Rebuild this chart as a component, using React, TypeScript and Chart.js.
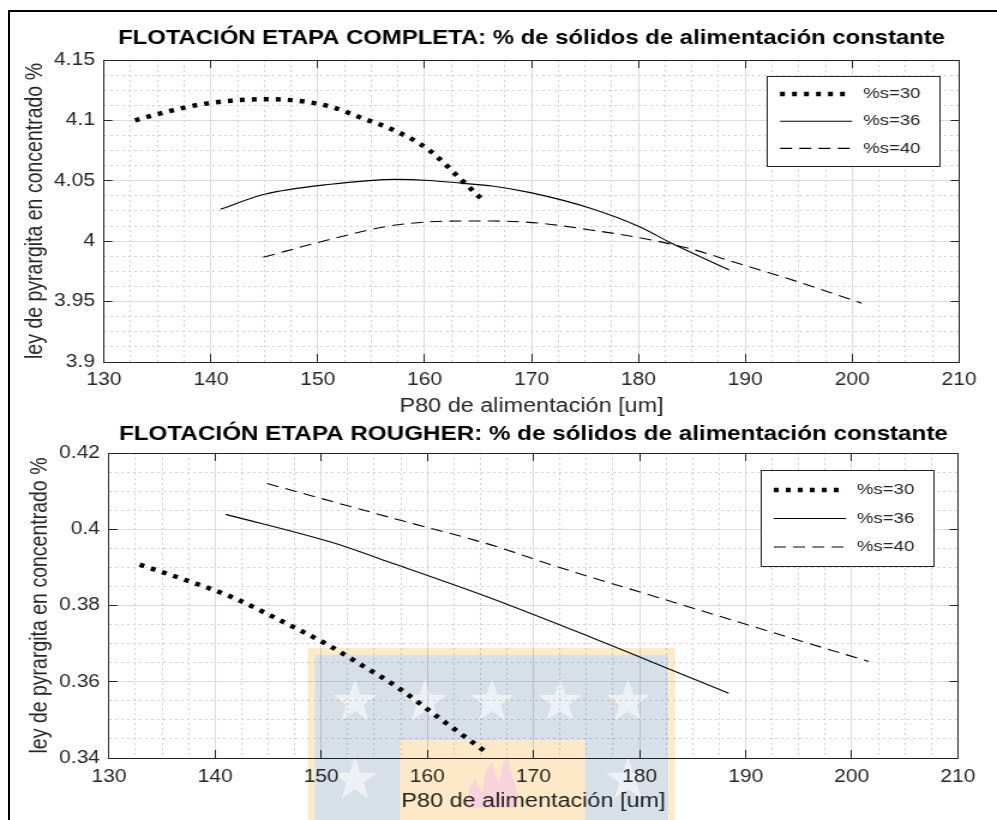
import React, { useEffect, useRef } from 'react';
import { Chart, registerables } from 'chart.js';

Chart.register(...registerables);

// ---------------- data ----------------
const xTickValues = [130, 140, 150, 160, 170, 180, 190, 200, 210];
const yTickValuesTop = [3.9, 3.95, 4, 4.05, 4.1, 4.15];
const yTickValuesBottom = [0.34, 0.36, 0.38, 0.4, 0.42];
const seriesLabels = ['%s=30', '%s=36', '%s=40'];

const topTitle = 'FLOTACIÓN ETAPA COMPLETA: % de sólidos de alimentación constante';
const bottomTitle = 'FLOTACIÓN ETAPA ROUGHER: % de sólidos de alimentación constante';
const xAxisTitle = 'P80 de alimentación [um]';
const yAxisTitle = 'ley de pyrargita en concentrado %';

// Top chart (etapa completa)
const top30X = [132.9, 135.8, 138.9, 141.9, 145.0, 148.1, 151.2, 154.2, 157.3, 160.4, 163.5, 165.6];
const top30Y = [4.1, 4.107, 4.113, 4.1163, 4.1175, 4.1163, 4.1114, 4.1017, 4.0912, 4.0755, 4.0503, 4.0327];
const top36X = [140.9, 145.0, 151.2, 157.3, 160.4, 163.5, 166.3, 169.9, 175.5, 180.1, 183.1, 188.5];
const top36Y = [4.0264, 4.0388, 4.0471, 4.0512, 4.0503, 4.0479, 4.0457, 4.0402, 4.0273, 4.012, 3.9983, 3.9762];
const top40X = [144.9, 151.2, 157.3, 163.5, 166.3, 170.9, 175.5, 180.1, 184.7, 189.3, 193.9, 200.9];
const top40Y = [3.9867, 4.0016, 4.0134, 4.0167, 4.0167, 4.0148, 4.0093, 4.0029, 3.9941, 3.9817, 3.9693, 3.9486];

// Bottom chart (etapa rougher)
const bot30X = [132.9, 137.2, 141.5, 146.2, 150.8, 153.9, 157.0, 161.6, 165.4];
const bot30Y = [0.3907, 0.3867, 0.3823, 0.376, 0.3694, 0.3642, 0.3589, 0.3495, 0.3418];
const bot36X = [141.0, 150.8, 157.0, 166.0, 175.3, 181.5, 188.4];
const bot36Y = [0.4039, 0.3967, 0.3908, 0.3819, 0.3718, 0.3648, 0.357];
const bot40X = [144.9, 157.0, 166.0, 172.2, 181.5, 190.8, 201.6];
const bot40Y = [0.412, 0.4027, 0.3959, 0.3902, 0.3823, 0.3744, 0.3653];

// ---------------- styling ----------------
const CW = 831;              // canvas drawing width (figure is stretched horizontally)
const S = 997 / CW;          // horizontal stretch
const FONT = "'Liberation Sans', Arial, Helvetica, sans-serif";
const TXT = '#262626';
const MAJ = '#dcdcdc';
const MIN = '#d2d2d2';

const lineStyles = [
  { borderWidth: 4.5, borderDash: [4, 6] },
  { borderWidth: 1.1, borderDash: [] as number[] },
  { borderWidth: 1.1, borderDash: [10, 6] },
];

function withMinors(majors: number[], sub: number) {
  const out: any[] = [];
  for (let i = 0; i < majors.length; i++) {
    out.push({ value: majors[i], mj: true });
    if (i < majors.length - 1) {
      for (let k = 1; k < sub; k++) {
        out.push({ value: majors[i] + ((majors[i + 1] - majors[i]) * k) / sub, mj: false });
      }
    }
  }
  return out;
}

function pts(xs: number[], ys: number[]) {
  return xs.map((x, i) => ({ x, y: ys[i] }));
}

const boxLegend = {
  id: 'boxLegend',
  afterDatasetsDraw(chart: any, _args: any, o: any) {
    const { ctx, chartArea } = chart;
    const x0 = chartArea.right - o.right - o.width;
    const y0 = chartArea.top + o.top;
    ctx.save();
    ctx.fillStyle = '#ffffff';
    ctx.fillRect(x0, y0, o.width, o.height);
    ctx.strokeStyle = TXT;
    ctx.lineWidth = 1;
    ctx.setLineDash([]);
    ctx.strokeRect(Math.round(x0) + 0.5, Math.round(y0) + 0.5, Math.round(o.width), Math.round(o.height));
    chart.data.datasets.forEach((ds: any, i: number) => {
      const y = y0 + o.row0 + i * o.rowGap;
      ctx.beginPath();
      ctx.setLineDash(ds.borderDash || []);
      ctx.lineCap = 'butt';
      ctx.lineWidth = ds.borderWidth;
      ctx.strokeStyle = ds.borderColor;
      ctx.moveTo(x0 + o.l0, y);
      ctx.lineTo(x0 + o.l1, y);
      ctx.stroke();
      ctx.setLineDash([]);
      ctx.fillStyle = TXT;
      ctx.font = `15.5px ${FONT}`;
      ctx.textBaseline = 'middle';
      ctx.textAlign = 'left';
      ctx.fillText(ds.label, x0 + o.tx, y);
    });
    ctx.restore();
  },
};

type Spec = {
  title: string;
  titleSize: number;
  titlePad: { top: number; bottom: number };
  yTicks: number[];
  series: [number[], number[]][];
  plotLeft: number;   // page px
  xScaleH: number;
  xTickPad: number;
  xTitleBottom: number;
  yTitleTop: number;
  yTickPad: number;
  legend: any;
};

function buildConfig(spec: Spec): any {
  const yMin = spec.yTicks[0];
  const yMax = spec.yTicks[spec.yTicks.length - 1];
  const isMj = (c: any) => !!(c.tick && c.tick.mj);
  return {
    type: 'line',
    data: {
      datasets: spec.series.map((s, i) => ({
        label: seriesLabels[i],
        data: pts(s[0], s[1]),
        borderColor: '#000000',
        backgroundColor: '#000000',
        borderWidth: lineStyles[i].borderWidth,
        borderDash: lineStyles[i].borderDash,
        borderCapStyle: 'butt',
        pointRadius: 0,
        cubicInterpolationMode: 'monotone',
        fill: false,
        xAxisID: 'x',
        yAxisID: 'y',
      })),
    },
    plugins: [boxLegend],
    options: {
      animation: false,
      responsive: false,
      devicePixelRatio: 1,
      events: [],
      layout: { padding: { left: 0, right: CW - 971 / S, top: 0, bottom: 0 } },
      plugins: {
        legend: { display: false },
        tooltip: { enabled: false },
        title: {
          display: true,
          text: spec.title,
          fullSize: false,
          align: 'center',
          color: '#000000',
          font: { family: FONT, size: spec.titleSize, weight: 'bold', lineHeight: '20px' },
          padding: spec.titlePad,
        },
        boxLegend: spec.legend,
      },
      scales: {
        x: {
          type: 'linear',
          position: 'bottom',
          min: xTickValues[0],
          max: xTickValues[xTickValues.length - 1],
          afterBuildTicks: (s: any) => { s.ticks = withMinors(xTickValues, 4); },
          afterFit: (s: any) => { s.height = spec.xScaleH; },
          ticks: {
            autoSkip: false,
            maxRotation: 0,
            color: TXT,
            font: { family: FONT, size: 17.5, lineHeight: '18px' },
            padding: spec.xTickPad,
            callback: (v: any, i: number, t: any[]) => (t[i] && t[i].mj ? String(v) : ''),
          },
          grid: {
            color: (c: any) => (isMj(c) ? MAJ : MIN),
            lineWidth: 1,
            tickLength: -8,
            tickWidth: 1,
            tickColor: (c: any) => (isMj(c) ? TXT : 'rgba(0,0,0,0)'),
          },
          border: { display: true, color: TXT, width: 1, dash: (c: any) => (c.tick && !c.tick.mj ? [2, 3] : []) },
          title: {
            display: true,
            text: xAxisTitle,
            color: TXT,
            font: { family: FONT, size: 19.5, lineHeight: '20px' },
            padding: { top: 0, bottom: spec.xTitleBottom },
          },
        },
        y: {
          type: 'linear',
          position: 'left',
          min: yMin,
          max: yMax,
          afterBuildTicks: (s: any) => { s.ticks = withMinors(spec.yTicks, 4); },
          afterFit: (s: any) => { s.width = spec.plotLeft / S; },
          ticks: {
            autoSkip: false,
            color: TXT,
            font: { family: FONT, size: 17.5, lineHeight: '18px' },
            padding: spec.yTickPad,
            callback: (v: any, i: number, t: any[]) => (t[i] && t[i].mj ? String(v) : ''),
          },
          grid: {
            color: (c: any) => (isMj(c) ? MAJ : MIN),
            lineWidth: 1,
            tickLength: -7,
            tickWidth: 1,
            tickColor: (c: any) => (isMj(c) ? TXT : 'rgba(0,0,0,0)'),
          },
          border: { display: true, color: TXT, width: 1, dash: (c: any) => (c.tick && !c.tick.mj ? [2, 3] : []) },
          title: {
            display: true,
            text: yAxisTitle,
            color: TXT,
            font: { family: FONT, size: 19.5, lineHeight: '20px' },
            padding: { top: spec.yTitleTop, bottom: 0 },
          },
        },
        x2: {
          type: 'linear',
          position: 'top',
          min: xTickValues[0],
          max: xTickValues[xTickValues.length - 1],
          afterBuildTicks: (s: any) => { s.ticks = xTickValues.map((v) => ({ value: v })); },
          afterFit: (s: any) => { s.height = 0; },
          ticks: { display: false },
          grid: { drawOnChartArea: false, tickLength: -8, tickWidth: 1, tickColor: TXT },
          border: { display: true, color: TXT, width: 1 },
        },
        y2: {
          type: 'linear',
          position: 'right',
          min: yMin,
          max: yMax,
          afterBuildTicks: (s: any) => { s.ticks = spec.yTicks.map((v) => ({ value: v })); },
          afterFit: (s: any) => { s.width = 0; },
          ticks: { display: false },
          grid: { drawOnChartArea: false, tickLength: -7, tickWidth: 1, tickColor: TXT },
          border: { display: true, color: TXT, width: 1 },
        },
      },
    },
  };
}

const topSpec: Spec = {
  title: topTitle,
  titleSize: 19.9,
  titlePad: { top: 29, bottom: 11 },
  yTicks: yTickValuesTop,
  series: [[top30X, top30Y], [top36X, top36Y], [top40X, top40Y]],
  plotLeft: 104,
  xScaleH: 58,
  xTickPad: 17,
  xTitleBottom: 3.3,
  yTitleTop: 35 / S - 10,
  yTickPad: 14.5,
  legend: { right: 20 / S, top: 16, width: 173 / S, height: 90, row0: 18, rowGap: 27.2, l0: 14 / S, l1: 86 / S, tx: 97 / S },
};

const bottomSpec: Spec = {
  title: bottomTitle,
  titleSize: 20.2,
  titlePad: { top: 14.5, bottom: 8.5 },
  yTicks: yTickValuesBottom,
  series: [[bot30X, bot30Y], [bot36X, bot36Y], [bot40X, bot40Y]],
  plotLeft: 109,
  xScaleH: 62,
  xTickPad: 18,
  xTitleBottom: 8,
  yTitleTop: 40 / S - 10,
  yTickPad: 14.5,
  legend: { right: 24 / S, top: 17, width: 173 / S, height: 96, row0: 20, rowGap: 28.5, l0: 13 / S, l1: 85 / S, tx: 96 / S },
};

function ChartCanvas({ spec, top, height }: { spec: Spec; top: number; height: number }) {
  const ref = useRef<HTMLCanvasElement | null>(null);
  useEffect(() => {
    if (!ref.current) return;
    const chart = new Chart(ref.current, buildConfig(spec));
    return () => chart.destroy();
  }, [spec]);
  return (
    <canvas
      ref={ref}
      width={CW}
      height={height}
      style={{
        position: 'absolute',
        left: 0,
        top,
        width: CW,
        height,
        transform: `scaleX(${S})`,
        transformOrigin: '0 0',
      }}
    />
  );
}

function starPoints(cx: number, cy: number, R: number) {
  const p: string[] = [];
  for (let i = 0; i < 10; i++) {
    const r = i % 2 ? R * 0.4 : R;
    const a = -Math.PI / 2 + (i * Math.PI) / 5;
    p.push(`${(cx + r * Math.cos(a)).toFixed(1)},${(cy + r * Math.sin(a)).toFixed(1)}`);
  }
  return p.join(' ');
}

const watermarkStars: [number, number][] = [
  [355, 702], [425, 702], [492, 702], [560, 702], [628, 702], [355, 780], [628, 780],
];

function Watermark() {
  return (
    <svg
      width={997}
      height={820}
      style={{ position: 'absolute', left: 0, top: 0, pointerEvents: 'none', mixBlendMode: 'multiply' }}
    >
      <rect x={308} y={648} width={367} height={180} fill="#fcebca" />
      <rect x={315} y={655} width={353} height={170} fill="#d7dfe9" />
      {watermarkStars.map(([cx, cy], i) => (
        <polygon key={i} points={starPoints(cx, cy, 23)} fill="#edf0f4" />
      ))}
      <rect x={400} y={740} width={185} height={90} fill="#fde9c7" />
      <path
        d="M468 808 C466 796 470 786 476 778 C478 786 480 790 483 792 C482 782 486 770 492 762 C494 772 497 778 500 782 C500 772 503 762 508 755 C508 768 515 780 517 792 C519 800 518 805 516 808 Z"
        fill="#f8d2dc"
      />
    </svg>
  );
}

export default function App() {
  return (
    <div
      style={{
        position: 'absolute',
        left: 0,
        top: 0,
        width: 997,
        height: 820,
        overflow: 'hidden',
        background: '#ffffff',
      }}
    >
      <div
        style={{
          position: 'absolute',
          left: 8,
          top: 10,
          width: 2000,
          height: 2000,
          borderLeft: '2px solid #000',
          borderTop: '2px solid #000',
        }}
      />
      <ChartCanvas spec={topSpec} top={0} height={420} />
      <ChartCanvas spec={bottomSpec} top={410} height={410} />
      <Watermark />
    </div>
  );
}
